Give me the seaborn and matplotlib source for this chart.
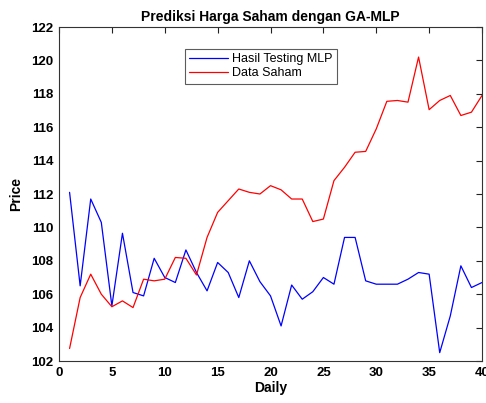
import pandas as pd
import numpy as np
import seaborn as sns
import matplotlib.pyplot as plt

# daily index and the two series
days = list(range(1, 41))
hasil_mlp = [112.1, 106.5, 111.7, 110.3, 105.3, 109.65, 106.1, 105.9, 108.15, 107.0,
             106.7, 108.65, 107.3, 106.2, 107.9, 107.3, 105.8, 108.0, 106.75, 105.9,
             104.1, 106.55, 105.7, 106.15, 107.0, 106.6, 109.4, 109.4, 106.8, 106.6,
             106.6, 106.6, 106.9, 107.3, 107.2, 102.5, 104.7, 107.7, 106.4, 106.7]
data_saham = [102.75, 105.8, 107.2, 106.0, 105.25, 105.6, 105.2, 106.9, 106.8, 106.9,
              108.2, 108.15, 107.15, 109.4, 110.9, 111.6, 112.3, 112.1, 112.0, 112.5,
              112.25, 111.7, 111.7, 110.35, 110.5, 112.8, 113.6, 114.5, 114.55, 115.9,
              117.55, 117.6, 117.5, 120.2, 117.05, 117.6, 117.9, 116.7, 116.9, 117.9]
series_names = ["Hasil Testing MLP", "Data Saham"]
x_ticks = list(range(0, 41, 5))
y_ticks = list(range(102, 123, 2))

df = pd.DataFrame({
    "Daily": days * 2,
    "Price": hasil_mlp + data_saham,
    "series": [series_names[0]] * len(days) + [series_names[1]] * len(days),
})

sns.set_style("white")
plt.rcParams['font.family'] = ['Liberation Sans', 'DejaVu Sans']
plt.rcParams['text.color'] = 'black'
plt.rcParams['axes.labelcolor'] = 'black'

fig = plt.figure(figsize=(4.86, 4.03), dpi=100)
ax = fig.add_axes([0.1214, 0.1042, 0.8704, 0.8288])

sns.lineplot(data=df, x="Daily", y="Price", hue="series",
             palette=["#0000ff", "#ff0000"], linewidth=0.9, ax=ax)

ax.set_xlim(0, 40)
ax.set_ylim(102, 122)
ax.set_xticks(x_ticks)
ax.set_yticks(y_ticks)
ax.tick_params(direction="in", length=4, width=0.8, top=True, right=True,
               labelsize=9.5, colors="#222222", pad=4)
for lbl in ax.get_xticklabels() + ax.get_yticklabels():
    lbl.set_fontweight("bold")
    lbl.set_color("black")
for s in ax.spines.values():
    s.set_color("#333333")
    s.set_linewidth(0.8)

ax.set_title("Prediksi Harga Saham dengan GA-MLP", fontweight="bold", fontsize=10,
             pad=4, color="black")
ax.set_xlabel("Daily", fontweight="bold", fontsize=10, labelpad=2)
ax.set_ylabel("Price", fontweight="bold", fontsize=10, labelpad=6)

leg = ax.legend(loc="upper left", bbox_to_anchor=(0.298, 0.934), fontsize=9,
                frameon=True, fancybox=False, borderpad=0.35, handlelength=3.1,
                handletextpad=0.3, labelspacing=0.15, borderaxespad=0)
leg.get_frame().set_edgecolor("#333333")
leg.get_frame().set_linewidth(0.8)
for t in leg.get_texts():
    t.set_color("black")

fig.savefig("out.png", dpi=100)
